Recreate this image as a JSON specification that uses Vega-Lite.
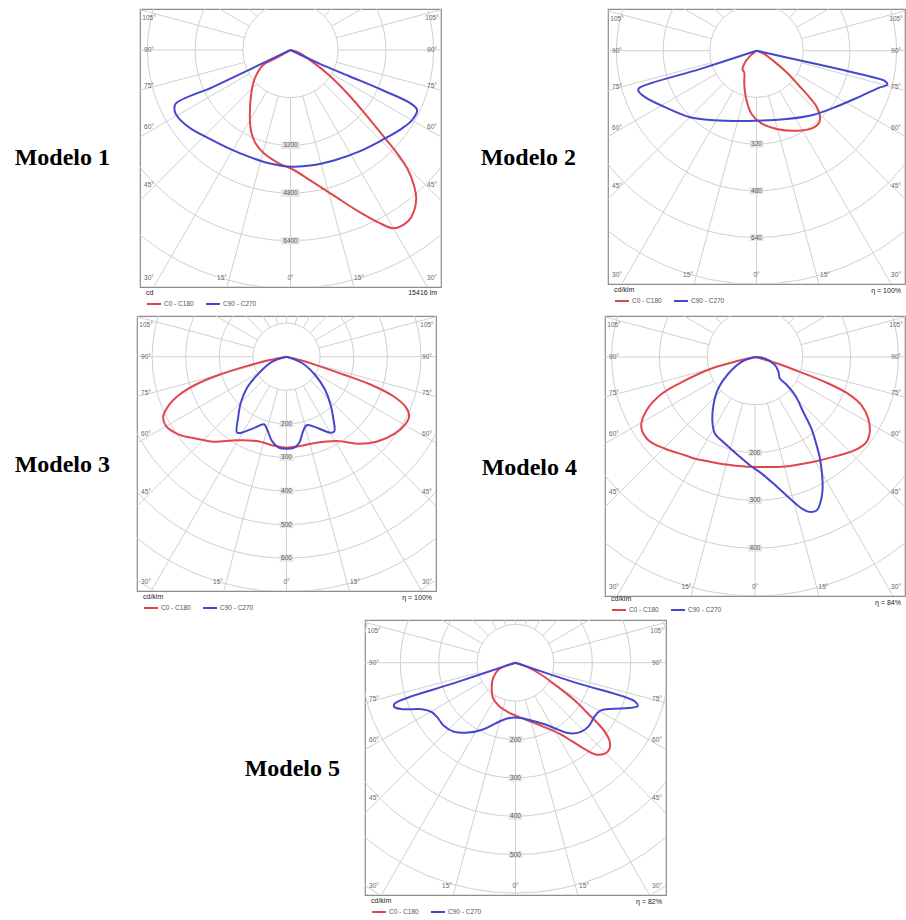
{
"$schema": "https://vega.github.io/schema/vega-lite/v6.json",
"padding": {"left": 0, "top": 8, "right": 0, "bottom": 0},
"background": "white",
"bounds": "full",
"spacing": 0,
"resolve": {"scale": {"color": "independent", "size": "independent"}, "legend": {"color": "independent"}},
"datasets": {
"rings": [{"r":1},{"r":2},{"r":3},{"r":4},{"r":5},{"r":6},{"r":7},{"r":8},{"r":9}],
"spokes": [
{"x1":0,"y1":-1,"x2":0,"y2":-10},
{"x1":0.2588,"y1":-0.9659,"x2":2.588,"y2":-9.659},
{"x1":0.5,"y1":-0.866,"x2":5,"y2":-8.66},
{"x1":0.7071,"y1":-0.7071,"x2":7.071,"y2":-7.071},
{"x1":0.866,"y1":-0.5,"x2":8.66,"y2":-5},
{"x1":0.9659,"y1":-0.2588,"x2":9.659,"y2":-2.588},
{"x1":1,"y1":0,"x2":10,"y2":0},
{"x1":0.9659,"y1":0.2588,"x2":9.659,"y2":2.588},
{"x1":0.866,"y1":0.5,"x2":8.66,"y2":5},
{"x1":0.7071,"y1":0.7071,"x2":7.071,"y2":7.071},
{"x1":0.5,"y1":0.866,"x2":5,"y2":8.66},
{"x1":0.2588,"y1":0.9659,"x2":2.588,"y2":9.659},
{"x1":0,"y1":1,"x2":0,"y2":10},
{"x1":-0.2588,"y1":-0.9659,"x2":-2.588,"y2":-9.659},
{"x1":-0.5,"y1":-0.866,"x2":-5,"y2":-8.66},
{"x1":-0.7071,"y1":-0.7071,"x2":-7.071,"y2":-7.071},
{"x1":-0.866,"y1":-0.5,"x2":-8.66,"y2":-5},
{"x1":-0.9659,"y1":-0.2588,"x2":-9.659,"y2":-2.588},
{"x1":-1,"y1":0,"x2":-10,"y2":0},
{"x1":-0.9659,"y1":0.2588,"x2":-9.659,"y2":2.588},
{"x1":-0.866,"y1":0.5,"x2":-8.66,"y2":5},
{"x1":-0.7071,"y1":0.7071,"x2":-7.071,"y2":7.071},
{"x1":-0.5,"y1":0.866,"x2":-5,"y2":8.66},
{"x1":-0.2588,"y1":0.9659,"x2":-2.588,"y2":9.659}
]
},
"vconcat": [
{
"hconcat": [
{"width": 140, "height": 306, "view": {"stroke": null}, "data": {"values": []}, "mark": "point"},
{
"width": 301, "height": 278,
"title": {"text": "Modelo 1", "orient": "left", "angle": 0, "align": "left", "baseline": "middle", "offset": 30, "dy": 10, "frame": "group", "fontSize": 24, "font": "Liberation Serif", "fontWeight": "bold", "color": "#000000"},
"layer": [
{"data": {"name": "rings"}, "mark": {"type": "point", "shape": "circle", "filled": false, "color": "#d0d0d0", "strokeWidth": 1, "opacity": 1, "clip": true},
 "encoding": {"x": {"datum": 0, "type": "quantitative", "scale": {"domain": [-3.155, 3.155]}, "axis": null},
  "y": {"datum": 0, "type": "quantitative", "scale": {"domain": [-4.969, 0.860]}, "axis": null},
  "size": {"field": "r", "type": "quantitative", "scale": {"type": "pow", "exponent": 2, "domain": [0, 8], "range": [0, 582474]}, "legend": null}}},
{"data": {"name": "spokes"}, "mark": {"type": "rule", "color": "#d0d0d0", "strokeWidth": 1, "clip": true},
 "encoding": {"x": {"field": "x1", "type": "quantitative", "scale": {"domain": [-3.155, 3.155]}, "axis": null}, "x2": {"field": "x2"},
  "y": {"field": "y1", "type": "quantitative", "scale": {"domain": [-4.969, 0.860]}, "axis": null}, "y2": {"field": "y2"}}},
{"data": {"values": [{"lab":"3200","y":-3200},{"lab":"4800","y":-4800},{"lab":"6400","y":-6400}]},
 "mark": {"type": "point", "shape": "M-1,-0.4H1V0.4H-1Z", "filled": true, "color": "#e6e6e6", "opacity": 1, "size": 361},
 "encoding": {"x": {"datum": 0, "type": "quantitative", "scale": {"domain": [-5048, 5048]}, "axis": null},
  "y": {"field": "y", "type": "quantitative", "scale": {"domain": [-7949, 1375]}, "axis": null}}},
{"data": {"values": [{"lab":"3200","y":-3200},{"lab":"4800","y":-4800},{"lab":"6400","y":-6400}]},
 "mark": {"type": "text", "fontSize": 6.5, "color": "#555555"},
 "encoding": {"x": {"datum": 0, "type": "quantitative", "scale": {"domain": [-5048, 5048]}, "axis": null},
  "y": {"field": "y", "type": "quantitative", "scale": {"domain": [-7949, 1375]}, "axis": null}, "text": {"field": "lab"}}},
{"data": {"values": [
 {"t":"105°","x":-4746,"y":1073},{"t":"105°","x":4746,"y":1073},
 {"t":"90°","x":-4746,"y":0},{"t":"90°","x":4746,"y":0},
 {"t":"75°","x":-4746,"y":-1207},{"t":"75°","x":4746,"y":-1207},
 {"t":"60°","x":-4746,"y":-2599},{"t":"60°","x":4746,"y":-2599},
 {"t":"45°","x":-4746,"y":-4528},{"t":"45°","x":4746,"y":-4528},
 {"t":"30°","x":-4746,"y":-7647},{"t":"30°","x":4746,"y":-7647},
 {"t":"15°","x":-2297,"y":-7647},{"t":"15°","x":2297,"y":-7647},
 {"t":"0°","x":0,"y":-7647}]},
 "mark": {"type": "text", "fontSize": 6.5, "color": "#666666"},
 "encoding": {"x": {"field": "x", "type": "quantitative", "scale": {"domain": [-5048, 5048]}, "axis": null},
  "y": {"field": "y", "type": "quantitative", "scale": {"domain": [-7949, 1375]}, "axis": null}, "text": {"field": "t"}}},
{"data": {"values": [
 {"s":"C0 - C180","i":0,"x":0,"y":0},{"s":"C0 - C180","i":1,"x":-470,"y":-268},{"s":"C0 - C180","i":2,"x":-917,"y":-503},{"s":"C0 - C180","i":3,"x":-1196,"y":-950},{"s":"C0 - C180","i":4,"x":-1308,"y":-1398},{"s":"C0 - C180","i":5,"x":-1364,"y":-2180},{"s":"C0 - C180","i":6,"x":-1319,"y":-2739},{"s":"C0 - C180","i":7,"x":-1174,"y":-3130},{"s":"C0 - C180","i":8,"x":-894,"y":-3466},{"s":"C0 - C180","i":9,"x":-391,"y":-3801},{"s":"C0 - C180","i":10,"x":112,"y":-4025},{"s":"C0 - C180","i":11,"x":727,"y":-4416},{"s":"C0 - C180","i":12,"x":1509,"y":-4919},{"s":"C0 - C180","i":13,"x":2292,"y":-5422},{"s":"C0 - C180","i":14,"x":2963,"y":-5791},{"s":"C0 - C180","i":15,"x":3466,"y":-5981},{"s":"C0 - C180","i":16,"x":3857,"y":-5814},{"s":"C0 - C180","i":17,"x":4058,"y":-5590},{"s":"C0 - C180","i":18,"x":4215,"y":-5031},{"s":"C0 - C180","i":19,"x":4137,"y":-4528},{"s":"C0 - C180","i":20,"x":3913,"y":-3969},{"s":"C0 - C180","i":21,"x":3578,"y":-3466},{"s":"C0 - C180","i":22,"x":3130,"y":-2907},{"s":"C0 - C180","i":23,"x":2627,"y":-2292},{"s":"C0 - C180","i":24,"x":1957,"y":-1509},{"s":"C0 - C180","i":25,"x":1286,"y":-839},{"s":"C0 - C180","i":26,"x":727,"y":-391},{"s":"C0 - C180","i":27,"x":280,"y":-89},{"s":"C0 - C180","i":28,"x":0,"y":0},
 {"s":"C90 - C270","i":0,"x":0,"y":0},{"s":"C90 - C270","i":1,"x":-1286,"y":-615},{"s":"C90 - C270","i":2,"x":-2627,"y":-1252},{"s":"C90 - C270","i":3,"x":-3857,"y":-1811},{"s":"C90 - C270","i":4,"x":-3879,"y":-2068},{"s":"C90 - C270","i":5,"x":-3745,"y":-2292},{"s":"C90 - C270","i":6,"x":-3354,"y":-2627},{"s":"C90 - C270","i":7,"x":-2739,"y":-2963},{"s":"C90 - C270","i":8,"x":-2068,"y":-3298},{"s":"C90 - C270","i":9,"x":-1398,"y":-3578},{"s":"C90 - C270","i":10,"x":-727,"y":-3801},{"s":"C90 - C270","i":11,"x":0,"y":-3913},{"s":"C90 - C270","i":12,"x":727,"y":-3868},{"s":"C90 - C270","i":13,"x":1509,"y":-3689},{"s":"C90 - C270","i":14,"x":2292,"y":-3410},{"s":"C90 - C270","i":15,"x":3074,"y":-3019},{"s":"C90 - C270","i":16,"x":3745,"y":-2627},{"s":"C90 - C270","i":17,"x":4081,"y":-2348},{"s":"C90 - C270","i":18,"x":4248,"y":-2012},{"s":"C90 - C270","i":19,"x":4025,"y":-1789},{"s":"C90 - C270","i":20,"x":3074,"y":-1342},{"s":"C90 - C270","i":21,"x":1957,"y":-872},{"s":"C90 - C270","i":22,"x":950,"y":-447},{"s":"C90 - C270","i":23,"x":0,"y":0}]},
 "mark": {"type": "line", "strokeWidth": 2, "interpolate": "catmull-rom", "clip": true},
 "encoding": {"x": {"field": "x", "type": "quantitative", "scale": {"domain": [-5048, 5048]}, "axis": null},
  "y": {"field": "y", "type": "quantitative", "scale": {"domain": [-7949, 1375]}, "axis": null},
  "order": {"field": "i", "type": "quantitative"},
  "color": {"field": "s", "type": "nominal", "scale": {"domain": ["C0 - C180", "C90 - C270"], "range": ["#e0474c", "#4646cf"]}, "legend": {"title": "cd", "legendX": 6, "legendY": 280}}}},
{"data": {"values": [{"t": "15416 lm"}]},
 "mark": {"type": "text", "align": "right", "baseline": "middle", "dx": -4, "dy": 6, "fontSize": 7, "color": "#222222"},
 "encoding": {"x": {"datum": 5048, "type": "quantitative", "scale": {"domain": [-5048, 5048]}, "axis": null},
  "y": {"datum": -7949, "type": "quantitative", "scale": {"domain": [-7949, 1375]}, "axis": null}, "text": {"field": "t"}}}
],
"resolve": {"scale": {"x": "independent", "y": "independent"}}
},
{"width": 167, "height": 1, "view": {"stroke": null}, "data": {"values": []}, "mark": "point"},
{
"width": 297, "height": 275,
"title": {"text": "Modelo 2", "orient": "left", "angle": 0, "align": "left", "baseline": "middle", "offset": 32, "dy": 11.5, "frame": "group", "fontSize": 24, "font": "Liberation Serif", "fontWeight": "bold", "color": "#000000"},
"layer": [
{"data": {"name": "rings"}, "mark": {"type": "point", "shape": "circle", "filled": false, "color": "#d0d0d0", "strokeWidth": 1, "opacity": 1, "clip": true},
 "encoding": {"x": {"datum": 0, "type": "quantitative", "scale": {"domain": [-3.180, 3.180]}, "axis": null},
  "y": {"datum": 0, "type": "quantitative", "scale": {"domain": [-4.996, 0.893]}, "axis": null},
  "size": {"field": "r", "type": "quantitative", "scale": {"type": "pow", "exponent": 2, "domain": [0, 8], "range": [0, 558308]}, "legend": null}}},
{"data": {"name": "spokes"}, "mark": {"type": "rule", "color": "#d0d0d0", "strokeWidth": 1, "clip": true},
 "encoding": {"x": {"field": "x1", "type": "quantitative", "scale": {"domain": [-3.180, 3.180]}, "axis": null}, "x2": {"field": "x2"},
  "y": {"field": "y1", "type": "quantitative", "scale": {"domain": [-4.996, 0.893]}, "axis": null}, "y2": {"field": "y2"}}},
{"data": {"values": [{"lab":"320","y":-320},{"lab":"480","y":-480},{"lab":"640","y":-640}]},
 "mark": {"type": "point", "shape": "M-1,-0.5H1V0.5H-1Z", "filled": true, "color": "#e6e6e6", "opacity": 1, "size": 196},
 "encoding": {"x": {"datum": 0, "type": "quantitative", "scale": {"domain": [-508.8, 508.8]}, "axis": null},
  "y": {"field": "y", "type": "quantitative", "scale": {"domain": [-799.3, 142.9]}, "axis": null}}},
{"data": {"values": [{"lab":"320","y":-320},{"lab":"480","y":-480},{"lab":"640","y":-640}]},
 "mark": {"type": "text", "fontSize": 6.5, "color": "#555555"},
 "encoding": {"x": {"datum": 0, "type": "quantitative", "scale": {"domain": [-508.8, 508.8]}, "axis": null},
  "y": {"field": "y", "type": "quantitative", "scale": {"domain": [-799.3, 142.9]}, "axis": null}, "text": {"field": "lab"}}},
{"data": {"values": [
 {"t":"105°","x":-477.9,"y":109.6},{"t":"105°","x":477.9,"y":109.6},
 {"t":"90°","x":-477.9,"y":0},{"t":"90°","x":477.9,"y":0},
 {"t":"75°","x":-477.9,"y":-123.3},{"t":"75°","x":477.9,"y":-123.3},
 {"t":"60°","x":-477.9,"y":-265.5},{"t":"60°","x":477.9,"y":-265.5},
 {"t":"45°","x":-477.9,"y":-462.5},{"t":"45°","x":477.9,"y":-462.5},
 {"t":"30°","x":-477.9,"y":-768.4},{"t":"30°","x":477.9,"y":-768.4},
 {"t":"15°","x":-234.7,"y":-768.4},{"t":"15°","x":234.7,"y":-768.4},
 {"t":"0°","x":0,"y":-768.4}]},
 "mark": {"type": "text", "fontSize": 6.5, "color": "#666666"},
 "encoding": {"x": {"field": "x", "type": "quantitative", "scale": {"domain": [-508.8, 508.8]}, "axis": null},
  "y": {"field": "y", "type": "quantitative", "scale": {"domain": [-799.3, 142.9]}, "axis": null}, "text": {"field": "t"}}},
{"data": {"values": [
 {"s":"C0 - C180","i":0,"x":0,"y":0},{"s":"C0 - C180","i":1,"x":-25,"y":-21},{"s":"C0 - C180","i":2,"x":-41,"y":-43},{"s":"C0 - C180","i":3,"x":-48,"y":-65},{"s":"C0 - C180","i":4,"x":-42,"y":-74},{"s":"C0 - C180","i":5,"x":-42,"y":-114},{"s":"C0 - C180","i":6,"x":-34,"y":-171},{"s":"C0 - C180","i":7,"x":-17,"y":-217},{"s":"C0 - C180","i":8,"x":17,"y":-249},{"s":"C0 - C180","i":9,"x":69,"y":-268},{"s":"C0 - C180","i":10,"x":137,"y":-274},{"s":"C0 - C180","i":11,"x":192,"y":-265},{"s":"C0 - C180","i":12,"x":215,"y":-246},{"s":"C0 - C180","i":13,"x":217,"y":-223},{"s":"C0 - C180","i":14,"x":206,"y":-192},{"s":"C0 - C180","i":15,"x":180,"y":-158},{"s":"C0 - C180","i":16,"x":146,"y":-120},{"s":"C0 - C180","i":17,"x":103,"y":-74},{"s":"C0 - C180","i":18,"x":57,"y":-34},{"s":"C0 - C180","i":19,"x":23,"y":-9},{"s":"C0 - C180","i":20,"x":0,"y":0},
 {"s":"C90 - C270","i":0,"x":0,"y":0},{"s":"C90 - C270","i":1,"x":-194,"y":-63},{"s":"C90 - C270","i":2,"x":-402,"y":-128},{"s":"C90 - C270","i":3,"x":-405,"y":-137},{"s":"C90 - C270","i":4,"x":-383,"y":-158},{"s":"C90 - C270","i":5,"x":-308,"y":-196},{"s":"C90 - C270","i":6,"x":-228,"y":-228},{"s":"C90 - C270","i":7,"x":-148,"y":-238},{"s":"C90 - C270","i":8,"x":0,"y":-240},{"s":"C90 - C270","i":9,"x":103,"y":-234},{"s":"C90 - C270","i":10,"x":194,"y":-220},{"s":"C90 - C270","i":11,"x":263,"y":-196},{"s":"C90 - C270","i":12,"x":343,"y":-162},{"s":"C90 - C270","i":13,"x":417,"y":-128},{"s":"C90 - C270","i":14,"x":448,"y":-116},{"s":"C90 - C270","i":15,"x":443,"y":-106},{"s":"C90 - C270","i":16,"x":354,"y":-80},{"s":"C90 - C270","i":17,"x":217,"y":-48},{"s":"C90 - C270","i":18,"x":103,"y":-23},{"s":"C90 - C270","i":19,"x":0,"y":0}]},
 "mark": {"type": "line", "strokeWidth": 2, "interpolate": "catmull-rom", "clip": true},
 "encoding": {"x": {"field": "x", "type": "quantitative", "scale": {"domain": [-508.8, 508.8]}, "axis": null},
  "y": {"field": "y", "type": "quantitative", "scale": {"domain": [-799.3, 142.9]}, "axis": null},
  "order": {"field": "i", "type": "quantitative"},
  "color": {"field": "s", "type": "nominal", "scale": {"domain": ["C0 - C180", "C90 - C270"], "range": ["#e0474c", "#4646cf"]}, "legend": {"title": "cd/klm", "legendX": 6, "legendY": 277}}}},
{"data": {"values": [{"t": "η = 100%"}]},
 "mark": {"type": "text", "align": "right", "baseline": "middle", "dx": -4, "dy": 7, "fontSize": 7, "color": "#222222"},
 "encoding": {"x": {"datum": 508.8, "type": "quantitative", "scale": {"domain": [-508.8, 508.8]}, "axis": null},
  "y": {"datum": -799.3, "type": "quantitative", "scale": {"domain": [-799.3, 142.9]}, "axis": null}, "text": {"field": "t"}}}
],
"resolve": {"scale": {"x": "independent", "y": "independent"}}
}
],
"bounds": "flush",
"spacing": 0,
"resolve": {"scale": {"color": "independent", "size": "independent"}, "legend": {"color": "independent"}}
},
{
"hconcat": [
{"width": 137, "height": 303, "view": {"stroke": null}, "data": {"values": []}, "mark": "point"},
{
"width": 299, "height": 275,
"title": {"text": "Modelo 3", "orient": "left", "angle": 0, "align": "left", "baseline": "middle", "offset": 27, "dy": 11.5, "frame": "group", "fontSize": 24, "font": "Liberation Serif", "fontWeight": "bold", "color": "#000000"},
"layer": [
{"data": {"name": "rings"}, "mark": {"type": "point", "shape": "circle", "filled": false, "color": "#d0d0d0", "strokeWidth": 1, "opacity": 1, "clip": true},
 "encoding": {"x": {"datum": 0, "type": "quantitative", "scale": {"domain": [-4.449, 4.449]}, "axis": null},
  "y": {"datum": 0, "type": "quantitative", "scale": {"domain": [-6.973, 1.211]}, "axis": null},
  "size": {"field": "r", "type": "quantitative", "scale": {"type": "pow", "exponent": 2, "domain": [0, 8], "range": [0, 289014]}, "legend": null}}},
{"data": {"name": "spokes"}, "mark": {"type": "rule", "color": "#d0d0d0", "strokeWidth": 1, "clip": true},
 "encoding": {"x": {"field": "x1", "type": "quantitative", "scale": {"domain": [-4.449, 4.449]}, "axis": null}, "x2": {"field": "x2"},
  "y": {"field": "y1", "type": "quantitative", "scale": {"domain": [-6.973, 1.211]}, "axis": null}, "y2": {"field": "y2"}}},
{"data": {"values": [{"lab":"200","y":-200},{"lab":"300","y":-300},{"lab":"400","y":-400},{"lab":"500","y":-500},{"lab":"600","y":-600}]},
 "mark": {"type": "point", "shape": "M-1,-0.5H1V0.5H-1Z", "filled": true, "color": "#e6e6e6", "opacity": 1, "size": 196},
 "encoding": {"x": {"datum": 0, "type": "quantitative", "scale": {"domain": [-444.9, 444.9]}, "axis": null},
  "y": {"field": "y", "type": "quantitative", "scale": {"domain": [-697.3, 121.1]}, "axis": null}}},
{"data": {"values": [{"lab":"200","y":-200},{"lab":"300","y":-300},{"lab":"400","y":-400},{"lab":"500","y":-500},{"lab":"600","y":-600}]},
 "mark": {"type": "text", "fontSize": 6.5, "color": "#555555"},
 "encoding": {"x": {"datum": 0, "type": "quantitative", "scale": {"domain": [-444.9, 444.9]}, "axis": null},
  "y": {"field": "y", "type": "quantitative", "scale": {"domain": [-697.3, 121.1]}, "axis": null}, "text": {"field": "lab"}}},
{"data": {"values": [
 {"t":"105°","x":-418.1,"y":95.2},{"t":"105°","x":418.1,"y":95.2},
 {"t":"90°","x":-418.1,"y":0},{"t":"90°","x":418.1,"y":0},
 {"t":"75°","x":-418.1,"y":-107.1},{"t":"75°","x":418.1,"y":-107.1},
 {"t":"60°","x":-418.1,"y":-230.6},{"t":"60°","x":418.1,"y":-230.6},
 {"t":"45°","x":-418.1,"y":-401.8},{"t":"45°","x":418.1,"y":-401.8},
 {"t":"30°","x":-418.1,"y":-670.5},{"t":"30°","x":418.1,"y":-670.5},
 {"t":"15°","x":-203.9,"y":-670.5},{"t":"15°","x":203.9,"y":-670.5},
 {"t":"0°","x":0,"y":-670.5}]},
 "mark": {"type": "text", "fontSize": 6.5, "color": "#666666"},
 "encoding": {"x": {"field": "x", "type": "quantitative", "scale": {"domain": [-444.9, 444.9]}, "axis": null},
  "y": {"field": "y", "type": "quantitative", "scale": {"domain": [-697.3, 121.1]}, "axis": null}, "text": {"field": "t"}}},
{"data": {"values": [
 {"s":"C0 - C180","i":0,"x":0,"y":0},{"s":"C0 - C180","i":1,"x":-50,"y":-10},{"s":"C0 - C180","i":2,"x":-119,"y":-28},{"s":"C0 - C180","i":3,"x":-198,"y":-53},{"s":"C0 - C180","i":4,"x":-268,"y":-82},{"s":"C0 - C180","i":5,"x":-317,"y":-112},{"s":"C0 - C180","i":6,"x":-352,"y":-147},{"s":"C0 - C180","i":7,"x":-367,"y":-180},{"s":"C0 - C180","i":8,"x":-359,"y":-206},{"s":"C0 - C180","i":9,"x":-322,"y":-231},{"s":"C0 - C180","i":10,"x":-268,"y":-244},{"s":"C0 - C180","i":11,"x":-218,"y":-253},{"s":"C0 - C180","i":12,"x":-149,"y":-249},{"s":"C0 - C180","i":13,"x":-89,"y":-251},{"s":"C0 - C180","i":14,"x":-40,"y":-264},{"s":"C0 - C180","i":15,"x":0,"y":-271},{"s":"C0 - C180","i":16,"x":40,"y":-266},{"s":"C0 - C180","i":17,"x":89,"y":-256},{"s":"C0 - C180","i":18,"x":149,"y":-251},{"s":"C0 - C180","i":19,"x":218,"y":-259},{"s":"C0 - C180","i":20,"x":268,"y":-253},{"s":"C0 - C180","i":21,"x":322,"y":-229},{"s":"C0 - C180","i":22,"x":355,"y":-199},{"s":"C0 - C180","i":23,"x":365,"y":-177},{"s":"C0 - C180","i":24,"x":355,"y":-150},{"s":"C0 - C180","i":25,"x":317,"y":-117},{"s":"C0 - C180","i":26,"x":248,"y":-82},{"s":"C0 - C180","i":27,"x":169,"y":-53},{"s":"C0 - C180","i":28,"x":89,"y":-25},{"s":"C0 - C180","i":29,"x":40,"y":-10},{"s":"C0 - C180","i":30,"x":0,"y":0},
 {"s":"C90 - C270","i":0,"x":0,"y":0},{"s":"C90 - C270","i":1,"x":-45,"y":-16},{"s":"C90 - C270","i":2,"x":-84,"y":-51},{"s":"C90 - C270","i":3,"x":-117,"y":-92},{"s":"C90 - C270","i":4,"x":-136,"y":-137},{"s":"C90 - C270","i":5,"x":-144,"y":-182},{"s":"C90 - C270","i":6,"x":-147,"y":-226},{"s":"C90 - C270","i":7,"x":-124,"y":-223},{"s":"C90 - C270","i":8,"x":-94,"y":-211},{"s":"C90 - C270","i":9,"x":-67,"y":-201},{"s":"C90 - C270","i":10,"x":-58,"y":-216},{"s":"C90 - C270","i":11,"x":-42,"y":-253},{"s":"C90 - C270","i":12,"x":-22,"y":-271},{"s":"C90 - C270","i":13,"x":0,"y":-274},{"s":"C90 - C270","i":14,"x":22,"y":-271},{"s":"C90 - C270","i":15,"x":38,"y":-256},{"s":"C90 - C270","i":16,"x":48,"y":-226},{"s":"C90 - C270","i":17,"x":60,"y":-204},{"s":"C90 - C270","i":18,"x":94,"y":-213},{"s":"C90 - C270","i":19,"x":129,"y":-226},{"s":"C90 - C270","i":20,"x":142,"y":-223},{"s":"C90 - C270","i":21,"x":139,"y":-182},{"s":"C90 - C270","i":22,"x":131,"y":-142},{"s":"C90 - C270","i":23,"x":114,"y":-97},{"s":"C90 - C270","i":24,"x":84,"y":-53},{"s":"C90 - C270","i":25,"x":45,"y":-18},{"s":"C90 - C270","i":26,"x":0,"y":0}]},
 "mark": {"type": "line", "strokeWidth": 2, "interpolate": "catmull-rom", "clip": true},
 "encoding": {"x": {"field": "x", "type": "quantitative", "scale": {"domain": [-444.9, 444.9]}, "axis": null},
  "y": {"field": "y", "type": "quantitative", "scale": {"domain": [-697.3, 121.1]}, "axis": null},
  "order": {"field": "i", "type": "quantitative"},
  "color": {"field": "s", "type": "nominal", "scale": {"domain": ["C0 - C180", "C90 - C270"], "range": ["#e0474c", "#4646cf"]}, "legend": {"title": "cd/klm", "legendX": 6, "legendY": 277}}}},
{"data": {"values": [{"t": "η = 100%"}]},
 "mark": {"type": "text", "align": "right", "baseline": "middle", "dx": -4, "dy": 7, "fontSize": 7, "color": "#222222"},
 "encoding": {"x": {"datum": 444.9, "type": "quantitative", "scale": {"domain": [-444.9, 444.9]}, "axis": null},
  "y": {"datum": -697.3, "type": "quantitative", "scale": {"domain": [-697.3, 121.1]}, "axis": null}, "text": {"field": "t"}}}
],
"resolve": {"scale": {"x": "independent", "y": "independent"}}
},
{"width": 169, "height": 1, "view": {"stroke": null}, "data": {"values": []}, "mark": "point"},
{
"width": 300, "height": 280,
"title": {"text": "Modelo 4", "orient": "left", "angle": 0, "align": "left", "baseline": "middle", "offset": 28, "dy": 12, "frame": "group", "fontSize": 24, "font": "Liberation Serif", "fontWeight": "bold", "color": "#000000"},
"layer": [
{"data": {"name": "rings"}, "mark": {"type": "point", "shape": "circle", "filled": false, "color": "#d0d0d0", "strokeWidth": 1, "opacity": 1, "clip": true},
 "encoding": {"x": {"datum": 0, "type": "quantitative", "scale": {"domain": [-3.138, 3.138]}, "axis": null},
  "y": {"datum": 0, "type": "quantitative", "scale": {"domain": [-5.0, 0.858]}, "axis": null},
  "size": {"field": "r", "type": "quantitative", "scale": {"type": "pow", "exponent": 2, "domain": [0, 8], "range": [0, 584919]}, "legend": null}}},
{"data": {"name": "spokes"}, "mark": {"type": "rule", "color": "#d0d0d0", "strokeWidth": 1, "clip": true},
 "encoding": {"x": {"field": "x1", "type": "quantitative", "scale": {"domain": [-3.138, 3.138]}, "axis": null}, "x2": {"field": "x2"},
  "y": {"field": "y1", "type": "quantitative", "scale": {"domain": [-5.0, 0.858]}, "axis": null}, "y2": {"field": "y2"}}},
{"data": {"values": [{"lab":"200","y":-200},{"lab":"300","y":-300},{"lab":"400","y":-400}]},
 "mark": {"type": "point", "shape": "M-1,-0.5H1V0.5H-1Z", "filled": true, "color": "#e6e6e6", "opacity": 1, "size": 196},
 "encoding": {"x": {"datum": 0, "type": "quantitative", "scale": {"domain": [-313.8, 313.8]}, "axis": null},
  "y": {"field": "y", "type": "quantitative", "scale": {"domain": [-500, 85.8]}, "axis": null}}},
{"data": {"values": [{"lab":"200","y":-200},{"lab":"300","y":-300},{"lab":"400","y":-400}]},
 "mark": {"type": "text", "fontSize": 6.5, "color": "#555555"},
 "encoding": {"x": {"datum": 0, "type": "quantitative", "scale": {"domain": [-313.8, 313.8]}, "axis": null},
  "y": {"field": "y", "type": "quantitative", "scale": {"domain": [-500, 85.8]}, "axis": null}, "text": {"field": "lab"}}},
{"data": {"values": [
 {"t":"105°","x":-295,"y":66.9},{"t":"105°","x":295,"y":66.9},
 {"t":"90°","x":-295,"y":0},{"t":"90°","x":295,"y":0},
 {"t":"75°","x":-295,"y":-75.3},{"t":"75°","x":295,"y":-75.3},
 {"t":"60°","x":-295,"y":-162.1},{"t":"60°","x":295,"y":-162.1},
 {"t":"45°","x":-295,"y":-282.4},{"t":"45°","x":295,"y":-282.4},
 {"t":"30°","x":-295,"y":-481.2},{"t":"30°","x":295,"y":-481.2},
 {"t":"15°","x":-143.3,"y":-481.2},{"t":"15°","x":143.3,"y":-481.2},
 {"t":"0°","x":0,"y":-481.2}]},
 "mark": {"type": "text", "fontSize": 6.5, "color": "#666666"},
 "encoding": {"x": {"field": "x", "type": "quantitative", "scale": {"domain": [-313.8, 313.8]}, "axis": null},
  "y": {"field": "y", "type": "quantitative", "scale": {"domain": [-500, 85.8]}, "axis": null}, "text": {"field": "t"}}},
{"data": {"values": [
 {"s":"C0 - C180","i":0,"x":0,"y":0},{"s":"C0 - C180","i":1,"x":-35,"y":-8},{"s":"C0 - C180","i":2,"x":-91,"y":-24},{"s":"C0 - C180","i":3,"x":-146,"y":-49},{"s":"C0 - C180","i":4,"x":-195,"y":-77},{"s":"C0 - C180","i":5,"x":-227,"y":-112},{"s":"C0 - C180","i":6,"x":-238,"y":-146},{"s":"C0 - C180","i":7,"x":-223,"y":-174},{"s":"C0 - C180","i":8,"x":-188,"y":-192},{"s":"C0 - C180","i":9,"x":-145,"y":-206},{"s":"C0 - C180","i":10,"x":-125,"y":-213},{"s":"C0 - C180","i":11,"x":-84,"y":-221},{"s":"C0 - C180","i":12,"x":-35,"y":-228},{"s":"C0 - C180","i":13,"x":7,"y":-230},{"s":"C0 - C180","i":14,"x":63,"y":-229},{"s":"C0 - C180","i":15,"x":118,"y":-220},{"s":"C0 - C180","i":16,"x":160,"y":-210},{"s":"C0 - C180","i":17,"x":209,"y":-195},{"s":"C0 - C180","i":18,"x":233,"y":-178},{"s":"C0 - C180","i":19,"x":240,"y":-157},{"s":"C0 - C180","i":20,"x":237,"y":-129},{"s":"C0 - C180","i":21,"x":223,"y":-101},{"s":"C0 - C180","i":22,"x":195,"y":-77},{"s":"C0 - C180","i":23,"x":146,"y":-52},{"s":"C0 - C180","i":24,"x":91,"y":-30},{"s":"C0 - C180","i":25,"x":42,"y":-12},{"s":"C0 - C180","i":26,"x":0,"y":0},
 {"s":"C90 - C270","i":0,"x":0,"y":0},{"s":"C90 - C270","i":1,"x":-28,"y":-10},{"s":"C90 - C270","i":2,"x":-56,"y":-35},{"s":"C90 - C270","i":3,"x":-77,"y":-66},{"s":"C90 - C270","i":4,"x":-87,"y":-101},{"s":"C90 - C270","i":5,"x":-89,"y":-136},{"s":"C90 - C270","i":6,"x":-84,"y":-160},{"s":"C90 - C270","i":7,"x":-63,"y":-181},{"s":"C90 - C270","i":8,"x":-35,"y":-206},{"s":"C90 - C270","i":9,"x":-10,"y":-227},{"s":"C90 - C270","i":10,"x":14,"y":-244},{"s":"C90 - C270","i":11,"x":42,"y":-268},{"s":"C90 - C270","i":12,"x":73,"y":-296},{"s":"C90 - C270","i":13,"x":98,"y":-317},{"s":"C90 - C270","i":14,"x":113,"y":-324},{"s":"C90 - C270","i":15,"x":129,"y":-321},{"s":"C90 - C270","i":16,"x":136,"y":-307},{"s":"C90 - C270","i":17,"x":141,"y":-282},{"s":"C90 - C270","i":18,"x":141,"y":-254},{"s":"C90 - C270","i":19,"x":136,"y":-213},{"s":"C90 - C270","i":20,"x":129,"y":-185},{"s":"C90 - C270","i":21,"x":118,"y":-150},{"s":"C90 - C270","i":22,"x":101,"y":-115},{"s":"C90 - C270","i":23,"x":84,"y":-80},{"s":"C90 - C270","i":24,"x":64,"y":-56},{"s":"C90 - C270","i":25,"x":52,"y":-45},{"s":"C90 - C270","i":26,"x":49,"y":-31},{"s":"C90 - C270","i":27,"x":42,"y":-17},{"s":"C90 - C270","i":28,"x":21,"y":-3},{"s":"C90 - C270","i":29,"x":0,"y":0}]},
 "mark": {"type": "line", "strokeWidth": 2, "interpolate": "catmull-rom", "clip": true},
 "encoding": {"x": {"field": "x", "type": "quantitative", "scale": {"domain": [-313.8, 313.8]}, "axis": null},
  "y": {"field": "y", "type": "quantitative", "scale": {"domain": [-500, 85.8]}, "axis": null},
  "order": {"field": "i", "type": "quantitative"},
  "color": {"field": "s", "type": "nominal", "scale": {"domain": ["C0 - C180", "C90 - C270"], "range": ["#e0474c", "#4646cf"]}, "legend": {"title": "cd/klm", "legendX": 6, "legendY": 279}}}},
{"data": {"values": [{"t": "η = 84%"}]},
 "mark": {"type": "text", "align": "right", "baseline": "middle", "dx": -4, "dy": 7, "fontSize": 7, "color": "#222222"},
 "encoding": {"x": {"datum": 313.8, "type": "quantitative", "scale": {"domain": [-313.8, 313.8]}, "axis": null},
  "y": {"datum": -500, "type": "quantitative", "scale": {"domain": [-500, 85.8]}, "axis": null}, "text": {"field": "t"}}}
],
"resolve": {"scale": {"x": "independent", "y": "independent"}}
}
],
"bounds": "flush",
"spacing": 0,
"resolve": {"scale": {"color": "independent", "size": "independent"}, "legend": {"color": "independent"}}
},
{
"hconcat": [
{"width": 365, "height": 1, "view": {"stroke": null}, "data": {"values": []}, "mark": "point"},
{
"width": 301, "height": 275,
"title": {"text": "Modelo 5", "orient": "left", "angle": 0, "align": "left", "baseline": "middle", "offset": 25, "dy": 11.5, "frame": "group", "fontSize": 24, "font": "Liberation Serif", "fontWeight": "bold", "color": "#000000"},
"layer": [
{"data": {"name": "rings"}, "mark": {"type": "point", "shape": "circle", "filled": false, "color": "#d0d0d0", "strokeWidth": 1, "opacity": 1, "clip": true},
 "encoding": {"x": {"datum": 0, "type": "quantitative", "scale": {"domain": [-3.919, 3.919]}, "axis": null},
  "y": {"datum": 0, "type": "quantitative", "scale": {"domain": [-6.049, 1.112]}, "axis": null},
  "size": {"field": "r", "type": "quantitative", "scale": {"type": "pow", "exponent": 2, "domain": [0, 8], "range": [0, 377487]}, "legend": null}}},
{"data": {"name": "spokes"}, "mark": {"type": "rule", "color": "#d0d0d0", "strokeWidth": 1, "clip": true},
 "encoding": {"x": {"field": "x1", "type": "quantitative", "scale": {"domain": [-3.919, 3.919]}, "axis": null}, "x2": {"field": "x2"},
  "y": {"field": "y1", "type": "quantitative", "scale": {"domain": [-6.049, 1.112]}, "axis": null}, "y2": {"field": "y2"}}},
{"data": {"values": [{"lab":"200","y":-200},{"lab":"300","y":-300},{"lab":"400","y":-400},{"lab":"500","y":-500}]},
 "mark": {"type": "point", "shape": "M-1,-0.5H1V0.5H-1Z", "filled": true, "color": "#e6e6e6", "opacity": 1, "size": 196},
 "encoding": {"x": {"datum": 0, "type": "quantitative", "scale": {"domain": [-391.9, 391.9]}, "axis": null},
  "y": {"field": "y", "type": "quantitative", "scale": {"domain": [-604.9, 111.2]}, "axis": null}}},
{"data": {"values": [{"lab":"200","y":-200},{"lab":"300","y":-300},{"lab":"400","y":-400},{"lab":"500","y":-500}]},
 "mark": {"type": "text", "fontSize": 6.5, "color": "#555555"},
 "encoding": {"x": {"datum": 0, "type": "quantitative", "scale": {"domain": [-391.9, 391.9]}, "axis": null},
  "y": {"field": "y", "type": "quantitative", "scale": {"domain": [-604.9, 111.2]}, "axis": null}, "text": {"field": "lab"}}},
{"data": {"values": [
 {"t":"105°","x":-368.5,"y":83.3},{"t":"105°","x":368.5,"y":83.3},
 {"t":"90°","x":-368.5,"y":0},{"t":"90°","x":368.5,"y":0},
 {"t":"75°","x":-368.5,"y":-93.7},{"t":"75°","x":368.5,"y":-93.7},
 {"t":"60°","x":-368.5,"y":-201.8},{"t":"60°","x":368.5,"y":-201.8},
 {"t":"45°","x":-368.5,"y":-351.5},{"t":"45°","x":368.5,"y":-351.5},
 {"t":"30°","x":-368.5,"y":-581.5},{"t":"30°","x":368.5,"y":-581.5},
 {"t":"15°","x":-178.4,"y":-581.5},{"t":"15°","x":178.4,"y":-581.5},
 {"t":"0°","x":0,"y":-581.5}]},
 "mark": {"type": "text", "fontSize": 6.5, "color": "#666666"},
 "encoding": {"x": {"field": "x", "type": "quantitative", "scale": {"domain": [-391.9, 391.9]}, "axis": null},
  "y": {"field": "y", "type": "quantitative", "scale": {"domain": [-604.9, 111.2]}, "axis": null}, "text": {"field": "t"}}},
{"data": {"values": [
 {"s":"C0 - C180","i":0,"x":0,"y":0},{"s":"C0 - C180","i":1,"x":-43,"y":-17},{"s":"C0 - C180","i":2,"x":-58,"y":-39},{"s":"C0 - C180","i":3,"x":-62,"y":-65},{"s":"C0 - C180","i":4,"x":-59,"y":-91},{"s":"C0 - C180","i":5,"x":-43,"y":-113},{"s":"C0 - C180","i":6,"x":-17,"y":-130},{"s":"C0 - C180","i":7,"x":26,"y":-148},{"s":"C0 - C180","i":8,"x":69,"y":-165},{"s":"C0 - C180","i":9,"x":113,"y":-184},{"s":"C0 - C180","i":10,"x":148,"y":-205},{"s":"C0 - C180","i":11,"x":182,"y":-226},{"s":"C0 - C180","i":12,"x":208,"y":-239},{"s":"C0 - C180","i":13,"x":234,"y":-236},{"s":"C0 - C180","i":14,"x":245,"y":-224},{"s":"C0 - C180","i":15,"x":245,"y":-204},{"s":"C0 - C180","i":16,"x":234,"y":-182},{"s":"C0 - C180","i":17,"x":217,"y":-161},{"s":"C0 - C180","i":18,"x":191,"y":-135},{"s":"C0 - C180","i":19,"x":156,"y":-100},{"s":"C0 - C180","i":20,"x":113,"y":-65},{"s":"C0 - C180","i":21,"x":65,"y":-30},{"s":"C0 - C180","i":22,"x":26,"y":-9},{"s":"C0 - C180","i":23,"x":0,"y":0},
 {"s":"C90 - C270","i":0,"x":0,"y":0},{"s":"C90 - C270","i":1,"x":-156,"y":-52},{"s":"C90 - C270","i":2,"x":-314,"y":-106},{"s":"C90 - C270","i":3,"x":-316,"y":-115},{"s":"C90 - C270","i":4,"x":-295,"y":-121},{"s":"C90 - C270","i":5,"x":-243,"y":-121},{"s":"C90 - C270","i":6,"x":-219,"y":-128},{"s":"C90 - C270","i":7,"x":-203,"y":-143},{"s":"C90 - C270","i":8,"x":-186,"y":-165},{"s":"C90 - C270","i":9,"x":-160,"y":-180},{"s":"C90 - C270","i":10,"x":-122,"y":-182},{"s":"C90 - C270","i":11,"x":-85,"y":-174},{"s":"C90 - C270","i":12,"x":-52,"y":-158},{"s":"C90 - C270","i":13,"x":-24,"y":-146},{"s":"C90 - C270","i":14,"x":0,"y":-143},{"s":"C90 - C270","i":15,"x":36,"y":-149},{"s":"C90 - C270","i":16,"x":78,"y":-161},{"s":"C90 - C270","i":17,"x":113,"y":-175},{"s":"C90 - C270","i":18,"x":141,"y":-184},{"s":"C90 - C270","i":19,"x":170,"y":-180},{"s":"C90 - C270","i":20,"x":191,"y":-165},{"s":"C90 - C270","i":21,"x":204,"y":-143},{"s":"C90 - C270","i":22,"x":219,"y":-126},{"s":"C90 - C270","i":23,"x":252,"y":-120},{"s":"C90 - C270","i":24,"x":295,"y":-118},{"s":"C90 - C270","i":25,"x":318,"y":-113},{"s":"C90 - C270","i":26,"x":311,"y":-101},{"s":"C90 - C270","i":27,"x":156,"y":-52},{"s":"C90 - C270","i":28,"x":0,"y":0}]},
 "mark": {"type": "line", "strokeWidth": 2, "interpolate": "catmull-rom", "clip": true},
 "encoding": {"x": {"field": "x", "type": "quantitative", "scale": {"domain": [-391.9, 391.9]}, "axis": null},
  "y": {"field": "y", "type": "quantitative", "scale": {"domain": [-604.9, 111.2]}, "axis": null},
  "order": {"field": "i", "type": "quantitative"},
  "color": {"field": "s", "type": "nominal", "scale": {"domain": ["C0 - C180", "C90 - C270"], "range": ["#e0474c", "#4646cf"]}, "legend": {"title": "cd/klm", "legendX": 6, "legendY": 277}}}},
{"data": {"values": [{"t": "η = 82%"}]},
 "mark": {"type": "text", "align": "right", "baseline": "middle", "dx": -4, "dy": 7, "fontSize": 7, "color": "#222222"},
 "encoding": {"x": {"datum": 391.9, "type": "quantitative", "scale": {"domain": [-391.9, 391.9]}, "axis": null},
  "y": {"datum": -604.9, "type": "quantitative", "scale": {"domain": [-604.9, 111.2]}, "axis": null}, "text": {"field": "t"}}}
],
"resolve": {"scale": {"x": "independent", "y": "independent"}}
}
],
"bounds": "flush",
"spacing": 0,
"resolve": {"scale": {"color": "independent", "size": "independent"}, "legend": {"color": "independent"}}
}
],
"config": {
 "font": "Liberation Sans",
 "view": {"stroke": "#8c8c8c", "strokeWidth": 1.2},
 "legend": {"orient": "none", "direction": "horizontal", "symbolType": "stroke", "symbolSize": 196, "symbolStrokeWidth": 2, "labelFontSize": 6.5, "labelColor": "#555555", "titleFontSize": 7, "titleColor": "#222222", "titleFontWeight": "normal", "titlePadding": 0, "columnPadding": 8, "labelOffset": 2, "padding": 0}
}
}
